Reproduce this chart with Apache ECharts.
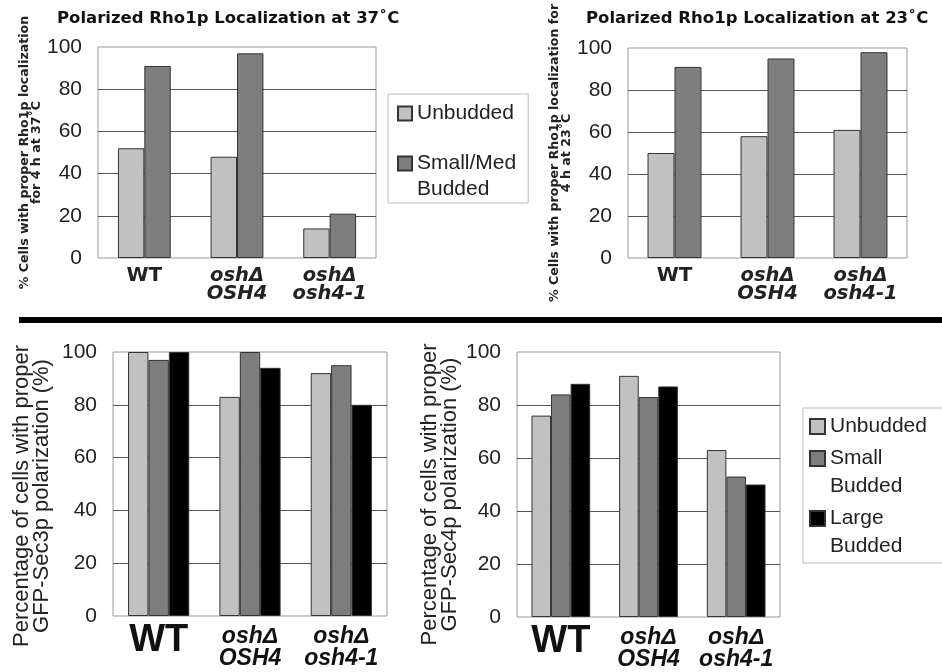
<!DOCTYPE html>
<html>
<head>
<meta charset="utf-8">
<script src="https://cdn.jsdelivr.net/npm/echarts@6/dist/echarts.min.js"></script>
<style>html,body{margin:0;padding:0;background:#fff;}#c{width:942px;height:672px;}</style>
</head>
<body>
<div id="c"></div>
<script>
// ---- data ----
const categories = ['WT', 'oshΔ\nOSH4', 'oshΔ\nosh4-1'];
const yTicks = [0, 20, 40, 60, 80, 100];

// Polarized Rho1p Localization at 37˚C
const rho37Unbudded = [52, 48, 14];
const rho37SmallMed = [91, 97, 21];
// Polarized Rho1p Localization at 23˚C
const rho23Unbudded = [50, 58, 61];
const rho23SmallMed = [91, 95, 98];
// GFP-Sec3p
const sec3Unbudded = [100, 83, 92];
const sec3Small = [97, 100, 95];
const sec3Large = [100, 94, 80];
// GFP-Sec4p
const sec4Unbudded = [76, 91, 63];
const sec4Small = [84, 83, 53];
const sec4Large = [88, 87, 50];

const titles = ['Polarized Rho1p Localization at 37˚C', 'Polarized Rho1p Localization at 23˚C'];
const yNames = [
  '% Cells with proper Rho1p localization\nfor 4 h at 37˚C',
  '% Cells with proper Rho1p localization for\n4 h at 23˚C',
  'Percentage of cells with proper\nGFP-Sec3p polarization (%)',
  'Percentage of cells with proper\nGFP-Sec4p polarization (%)'
];

// ---- styles ----
const LIGHT = '#c1c1c1', MID = '#7e7e7e', DARK = '#000000';
const SANS = 'Liberation Sans', VERD = 'DejaVu Sans';

const chart = echarts.init(document.getElementById('c'), null, {renderer: 'canvas'});

function catFormatter(v) {
  if (v === 'WT') return '{wt|WT}';
  return v.split('\n').map(s => '{it|' + s + '}').join('\n');
}
function xAxis(idx, top) {
  const rich = top ? {
    wt: {fontFamily: VERD, fontWeight: 'bold', fontSize: 20, lineHeight: 18, color: '#222'},
    it: {fontFamily: VERD, fontWeight: 'bold', fontStyle: 'italic', fontSize: 19.5, lineHeight: 18, color: '#222'}
  } : {
    wt: {fontFamily: SANS, fontWeight: 'bold', fontSize: 38, lineHeight: 30, color: '#111'},
    it: {fontFamily: SANS, fontWeight: 'bold', fontStyle: 'italic', fontSize: 23, lineHeight: 21.5, color: '#111'}
  };
  return {
    type: 'category', gridIndex: idx, data: categories,
    axisLine: {show: false}, axisTick: {show: false},
    axisLabel: {interval: 0, margin: top ? 9 : 10, formatter: catFormatter, rich: rich}
  };
}
function yAxis(idx, name, gap, nameStyle) {
  return {
    type: 'value', gridIndex: idx, min: yTicks[0], max: yTicks[yTicks.length - 1], interval: 20,
    axisLine: {show: false}, axisTick: {show: false},
    axisLabel: {fontFamily: SANS, fontSize: 21, color: '#222', margin: 16},
    splitLine: {show: true, showMinLine: false, showMaxLine: false, lineStyle: {color: '#555', width: 1}},
    name: name, nameLocation: 'middle', nameGap: gap, nameTextStyle: nameStyle
  };
}
const topNameStyle = {fontFamily: VERD, fontWeight: 'bold', fontSize: 12.6, lineHeight: 12, color: '#222'};

function bar(name, data, idx, color, gap) {
  return {
    type: 'bar', name: name, data: data, xAxisIndex: idx, yAxisIndex: idx,
    barGap: '0%', barCategoryGap: gap,
    itemStyle: {color: color, borderColor: '#333', borderWidth: 1},
    emphasis: {disabled: true}, animation: false
  };
}

// legend text: first line sits beside the icon, second line below it
function legendFormatter(single) {
  return function (n) {
    const parts = n.split(' ');
    if (parts.length === 1) return '{' + single + '|' + n + '}';
    return '{l| }\n{l|' + parts[0] + '}\n{l|' + parts[1] + '}';
  };
}

const gridBase = {show: true, borderColor: '#9a9a9a', borderWidth: 1, backgroundColor: 'transparent', containLabel: false};

const option = {
  animation: false,
  title: [
    {text: titles[0], left: 57, top: 10, padding: 0, textStyle: {fontFamily: VERD, fontWeight: 'bold', fontSize: 16.5, color: '#111'}},
    {text: titles[1], left: 586, top: 10, padding: 0, textStyle: {fontFamily: VERD, fontWeight: 'bold', fontSize: 16.5, color: '#111'}}
  ],
  grid: [
    Object.assign({left: 98, top: 47, width: 278, height: 211}, gridBase),
    Object.assign({left: 628, top: 48, width: 279, height: 210}, gridBase),
    Object.assign({left: 113, top: 352, width: 274, height: 264}, gridBase),
    Object.assign({left: 517, top: 352, width: 263, height: 265}, gridBase)
  ],
  xAxis: [xAxis(0, true), xAxis(1, true), xAxis(2, false), xAxis(3, false)],
  yAxis: [
    yAxis(0, yNames[0], 54, topNameStyle),
    yAxis(1, yNames[1], 44, topNameStyle),
    yAxis(2, yNames[2], 61, {fontFamily: SANS, fontSize: 22, lineHeight: 20, color: '#222', padding: [0, 24, 0, 0]}),
    yAxis(3, yNames[3], 57, {fontFamily: SANS, fontSize: 22, lineHeight: 20, color: '#222', padding: [0, 20, 0, 0]})
  ],
  legend: [
    {
      left: 388, top: 94, orient: 'vertical', padding: [9, 12, 3, 9], itemGap: 3,
      itemWidth: 14, itemHeight: 14, icon: 'rect', borderColor: '#bbb', borderWidth: 1,
      textStyle: {fontFamily: SANS, fontSize: 21, color: '#222',
        rich: {
          u: {fontFamily: SANS, fontSize: 21, lineHeight: 26, color: '#222'},
          l: {fontFamily: SANS, fontSize: 21, lineHeight: 26, color: '#222'}
        }},
      formatter: legendFormatter('u'),
      data: ['Unbudded', 'Small/Med Budded']
    },
    {
      left: 803, top: 408, orient: 'vertical', padding: [8, 16, 6, 6], itemGap: -17,
      itemWidth: 15, itemHeight: 15, icon: 'rect', borderColor: '#bbb', borderWidth: 1,
      textStyle: {fontFamily: SANS, fontSize: 21, color: '#222',
        rich: {
          u: {fontFamily: SANS, fontSize: 21, lineHeight: 28, color: '#222'},
          l: {fontFamily: SANS, fontSize: 21, lineHeight: 28, color: '#222'}
        }},
      formatter: legendFormatter('u'),
      data: ['Unbudded', 'Small Budded', 'Large Budded']
    }
  ],
  graphic: [
    {type: 'rect', shape: {x: 19, y: 317, width: 923, height: 6}, style: {fill: '#000'}, silent: true}
  ],
  series: [
    bar('Unbudded', rho37Unbudded, 0, LIGHT, '43%'),
    bar('Small/Med Budded', rho37SmallMed, 0, MID, '43%'),
    bar('Unbudded', rho23Unbudded, 1, LIGHT, '42%'),
    bar('Small/Med Budded', rho23SmallMed, 1, MID, '42%'),
    bar('Unbudded', sec3Unbudded, 2, LIGHT, '33%'),
    bar('Small Budded', sec3Small, 2, MID, '33%'),
    bar('Large Budded', sec3Large, 2, DARK, '33%'),
    bar('Unbudded', sec4Unbudded, 3, LIGHT, '33%'),
    bar('Small Budded', sec4Small, 3, MID, '33%'),
    bar('Large Budded', sec4Large, 3, DARK, '33%')
  ]
};
chart.setOption(option);
</script>
</body>
</html>
